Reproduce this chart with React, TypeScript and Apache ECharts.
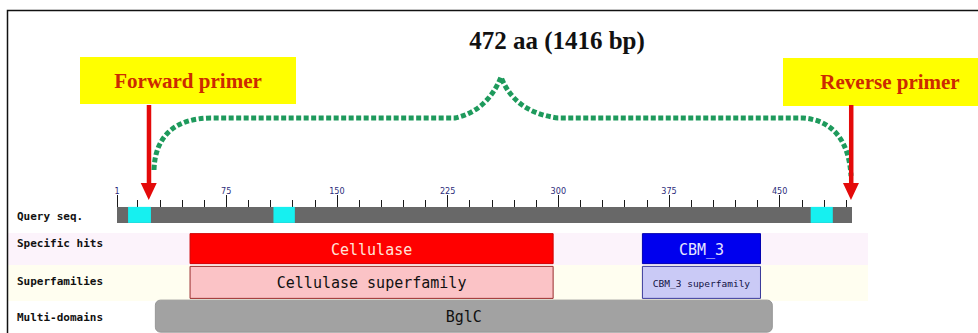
import React, { useEffect, useRef } from 'react';
import * as echarts from 'echarts';

// ---------- data ----------
const titleText = '472 aa (1416 bp)';
const rowLabels = ['Query seq.', 'Specific hits', 'Superfamilies', 'Multi-domains'];
const queryStart = 1;
const queryEnd = 499;
const highlightStarts = [8.5, 107, 471];
const highlightEnds = [24, 121.5, 486];
const domainNames = ['Cellulase', 'Cellulase superfamily', 'CBM_3', 'CBM_3 superfamily', 'BglC'];
const domainRows = [1, 2, 1, 2, 3];
const domainStarts = [50.5, 50.5, 357, 357, 27];
const domainEnds = [296.5, 296.5, 437, 437, 445];
const majorTicks = [1, 75, 150, 225, 300, 375, 450];
const minorTicks = [15, 30, 45, 60, 90, 105, 120, 135, 165, 180, 195, 210, 240, 255, 270, 285, 315, 330, 345, 360, 390, 405, 420, 435, 465, 480, 495];
const primerNames = ['Forward primer', 'Reverse primer'];
const primerPositions = [22.5, 498.3];

// ---------- styles ----------
const rowHeights = [16, 30, 32, 32];
const domainStyles: Record<string, any> = {
  'Cellulase': { fill: '#ff0000', stroke: '#d00000', text: '#ffe4d8', size: 15, r: 0 },
  'Cellulase superfamily': { fill: '#fbc3c6', stroke: '#9a2b2b', text: '#111111', size: 15, r: 0 },
  'CBM_3': { fill: '#0000ee', stroke: '#0000b0', text: '#e6e6ff', size: 15, r: 0 },
  'CBM_3 superfamily': { fill: '#cacaf6', stroke: '#3a3a9a', text: '#111144', size: 9.5, r: 0 },
  'BglC': { fill: '#a2a2a2', stroke: '#979797', text: '#111111', size: 15, r: 5 },
};
// vertical shift of each row label (the reference does not centre them exactly)
const labelPads = [[4, 0, 0, 0], [0, 0, 11, 0], [0, 0, 2, 0], [2, 0, 0, 0]];

const BRACE_D =
  'M154 170 C155 136 175 118 212 118 L455 118 C475 114 492 100 501 77 ' +
  'C510 100 528 114 558 118 L803 118 C832 120 849 140 851 176';
echarts.graphic.registerShape('brace', echarts.graphic.extendPath(BRACE_D, {}));

const monoFont = "'DejaVu Sans Mono', 'Liberation Mono', monospace";
const serifFont = "'Liberation Serif', 'DejaVu Serif', serif";

function renderQuery(params: any, api: any) {
  const row = api.value(2);
  const p0 = api.coord([api.value(0), row]);
  const p1 = api.coord([api.value(1), row]);
  const h = rowHeights[row];
  const isMain = api.value(3) === 0;
  return {
    type: 'rect',
    shape: { x: p0[0], y: p0[1] - h / 2, width: p1[0] - p0[0], height: h },
    style: { fill: isMain ? '#686868' : '#16f0f0' },
  };
}

function renderDomain(params: any, api: any) {
  const row = api.value(2);
  const idx = api.value(3);
  const name = domainNames[idx];
  const st = domainStyles[name];
  const p0 = api.coord([api.value(0), row]);
  const p1 = api.coord([api.value(1), row]);
  const h = rowHeights[row];
  return {
    type: 'group',
    children: [
      {
        type: 'rect',
        shape: { x: p0[0], y: p0[1] - h / 2, width: p1[0] - p0[0], height: h, r: st.r },
        style: { fill: st.fill, stroke: st.stroke, lineWidth: 1 },
      },
      {
        type: 'text',
        x: (p0[0] + p1[0]) / 2,
        y: p0[1] + 1,
        style: {
          text: name,
          fill: st.text,
          font: `${st.size}px ${monoFont}`,
          align: 'center',
          verticalAlign: 'middle',
        },
      },
    ],
  };
}

function renderPrimer(params: any, api: any) {
  const p = api.coord([api.value(0), 0]);
  const x = p[0];
  const tip = p[1] - rowHeights[0] / 2 - 7;
  const top = 105;
  return {
    type: 'group',
    children: [
      { type: 'rect', shape: { x: x - 2, y: top, width: 4.5, height: tip - top - 12 }, style: { fill: '#e40a0a' } },
      {
        type: 'polygon',
        shape: { points: [[x - 8, tip - 17], [x + 8, tip - 17], [x, tip]] },
        style: { fill: '#e40a0a' },
      },
    ],
  };
}

export default function App() {
  const ref = useRef<HTMLDivElement>(null);
  useEffect(() => {
    const chart = echarts.init(ref.current!, undefined, { renderer: 'svg' });
    const axisRange = { min: queryStart, max: queryEnd };
    const rich: Record<string, any> = {};
    labelPads.forEach((pad, i) => {
      rich['r' + i] = { padding: pad, fontFamily: monoFont, fontSize: 11, fontWeight: 'bold', color: '#111111' };
    });
    chart.setOption({
      animation: false,
      backgroundColor: '#ffffff',
      grid: { left: 117, width: 735, top: 198, height: 138 },
      xAxis: [
        {
          type: 'value',
          ...axisRange,
          position: 'top',
          offset: -9,
          axisLine: { show: false },
          splitLine: { show: false },
          axisTick: { show: true, length: 12, customValues: majorTicks, lineStyle: { color: '#1a1a1a', width: 1 } },
          axisLabel: {
            show: true,
            customValues: majorTicks,
            margin: 12,
            fontSize: 9,
            fontFamily: "'Liberation Sans Narrow', 'DejaVu Sans Condensed', sans-serif",
            color: '#2c2c7a',
          },
        },
        {
          type: 'value',
          ...axisRange,
          position: 'top',
          offset: -9,
          axisLine: { show: false },
          splitLine: { show: false },
          axisTick: { show: true, length: 7, customValues: minorTicks, lineStyle: { color: '#1a1a1a', width: 1 } },
          axisLabel: { show: false },
        },
      ],
      yAxis: {
        type: 'category',
        data: rowLabels,
        inverse: true,
        axisLine: { show: false },
        axisTick: { show: false },
        splitLine: { show: false },
        axisLabel: {
          align: 'left',
          margin: 100,
          fontFamily: monoFont,
          fontSize: 11,
          color: '#111111',
          formatter: (v: string, i: number) => `{r${i}|${v}}`,
          rich,
        },
      },
      series: [
        {
          type: 'custom',
          name: 'Query seq.',
          renderItem: renderQuery,
          clip: false,
          data: [
            [queryStart, queryEnd, 0, 0],
            ...highlightStarts.map((s, i) => [s, highlightEnds[i], 0, 1]),
          ],
        },
        {
          type: 'custom',
          name: 'Domains',
          renderItem: renderDomain,
          clip: false,
          data: domainNames.map((_, i) => [domainStarts[i], domainEnds[i], domainRows[i], i]),
        },
        {
          type: 'custom',
          name: 'Primers',
          renderItem: renderPrimer,
          clip: false,
          z: 5,
          data: primerPositions.map((p, i) => [p, i]),
        },
      ],
      graphic: [
        { type: 'rect', z: -10, shape: { x: 8, y: 233, width: 860, height: 32 }, style: { fill: '#fcf3fb' } },
        { type: 'rect', z: -10, shape: { x: 8, y: 265, width: 860, height: 36 }, style: { fill: '#fffef0' } },
        {
          type: 'polyline',
          shape: { points: [[7.5, 340], [7.5, 10.5], [980, 10.5]] },
          style: { stroke: '#111111', lineWidth: 1.5, fill: 'none' },
        },
        {
          type: 'text',
          x: 557,
          y: 40,
          style: { text: titleText, font: `bold 25px ${serifFont}`, fill: '#111111', align: 'center', verticalAlign: 'middle' },
        },
        { type: 'rect', shape: { x: 80, y: 57, width: 216, height: 47 }, style: { fill: '#ffff00' } },
        {
          type: 'text',
          x: 188,
          y: 81,
          style: { text: primerNames[0], font: `bold 21px ${serifFont}`, fill: '#cc2a00', align: 'center', verticalAlign: 'middle' },
        },
        { type: 'rect', shape: { x: 783, y: 58, width: 200, height: 48 }, style: { fill: '#ffff00' } },
        {
          type: 'text',
          x: 890,
          y: 82,
          style: { text: primerNames[1], font: `bold 21px ${serifFont}`, fill: '#cc2a00', align: 'center', verticalAlign: 'middle' },
        },
        {
          type: 'brace',
          x: 0,
          y: 0,
          style: { fill: 'none', stroke: '#1e9a5c', lineWidth: 5, lineDash: [5, 2.5] },
        },
      ],
    });
    return () => chart.dispose();
  }, []);
  return (
    <div
      ref={ref}
      style={{ position: 'fixed', left: 0, top: 0, width: 978, height: 333, background: '#ffffff' }}
    />
  );
}
